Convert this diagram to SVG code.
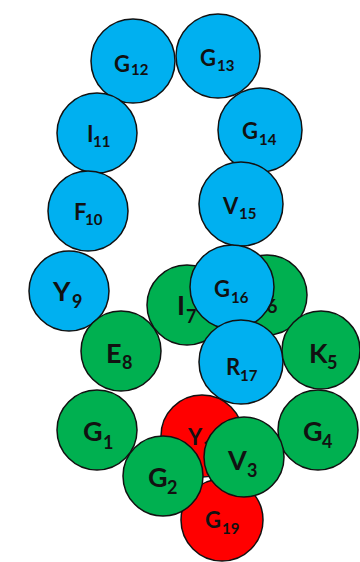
<svg xmlns="http://www.w3.org/2000/svg" width="360" height="562" viewBox="0 0 360 562">
<style>
circle{stroke:#111;stroke-width:1.5}
.b{fill:#00B0F0}.g{fill:#00B050}.r{fill:#FF0000}
text{font-family:Lato,"Open Sans","Liberation Sans",sans-serif;font-weight:700;fill:#111}
.s{font-size:22px}.s .d{font-size:15px}
.l{font-size:27px}.l .d{font-size:18px}
</style>
<rect width="360" height="562" fill="#fff"/>
<g id="G12"><circle class="b" cx="133" cy="61" r="42"/><text class="s"><tspan x="114" y="72">G</tspan><tspan class="d" x="131" y="75">12</tspan></text></g>
<g id="G13"><circle class="b" cx="218" cy="56" r="42"/><text class="s"><tspan x="200" y="66">G</tspan><tspan class="d" x="217" y="71">13</tspan></text></g>
<g id="I11"><circle class="b" cx="97" cy="133" r="40"/><text class="s"><tspan x="87" y="142">I</tspan><tspan class="d" x="93" y="147">11</tspan></text></g>
<g id="G14"><circle class="b" cx="260" cy="130" r="42"/><text class="s"><tspan x="242" y="139">G</tspan><tspan class="d" x="259" y="145">14</tspan></text></g>
<g id="F10"><circle class="b" cx="88" cy="211" r="40"/><text class="s"><tspan x="74" y="220">F</tspan><tspan class="d" x="85" y="225">10</tspan></text></g>
<g id="V15"><circle class="b" cx="241" cy="204" r="42"/><text class="s"><tspan x="223" y="214">V</tspan><tspan class="d" x="239" y="219">15</tspan></text></g>
<g id="Y9"><circle class="b" cx="69" cy="291" r="40"/><text class="l"><tspan x="53" y="301">Y</tspan><tspan class="d" x="72" y="308">9</tspan></text></g>
<g id="E8"><circle class="g" cx="121" cy="351" r="40"/><text class="l"><tspan x="106" y="363">E</tspan><tspan class="d" x="122" y="369">8</tspan></text></g>
<g id="I7"><circle class="g" cx="187" cy="305" r="40"/><text class="l"><tspan x="177" y="315">I</tspan><tspan class="d" x="186" y="323">7</tspan></text></g>
<g id="N6"><circle class="g" cx="267" cy="295" r="40"/><text class="l"><tspan class="d" x="267" y="313">6</tspan></text></g>
<g id="G16"><circle class="b" cx="232" cy="287" r="42"/><text class="s"><tspan x="214" y="297">G</tspan><tspan class="d" x="231" y="303">16</tspan></text></g>
<g id="R17"><circle class="b" cx="241" cy="362" r="42"/><text class="s"><tspan x="226" y="375">R</tspan><tspan class="d" x="240" y="381">17</tspan></text></g>
<g id="K5"><circle class="g" cx="321" cy="350" r="39"/><text class="l"><tspan x="309" y="363">K</tspan><tspan class="d" x="327" y="369">5</tspan></text></g>
<g id="G1"><circle class="g" cx="97" cy="430" r="40"/><text class="l"><tspan x="83" y="441">G</tspan><tspan class="d" x="103" y="449">1</tspan></text></g>
<g id="G4"><circle class="g" cx="318" cy="430" r="40"/><text class="l"><tspan x="303" y="441">G</tspan><tspan class="d" x="322" y="448">4</tspan></text></g>
<g id="Y18"><circle class="r" cx="202" cy="436" r="41"/><text class="s"><tspan x="188" y="445">Y</tspan><tspan class="d" x="203" y="451">1</tspan></text></g>
<g id="G19"><circle class="r" cx="222" cy="520" r="41"/><text class="s"><tspan x="205" y="528">G</tspan><tspan class="d" x="222" y="534">19</tspan></text></g>
<g id="G2"><circle class="g" cx="163" cy="476" r="40"/><text class="l"><tspan x="148" y="487">G</tspan><tspan class="d" x="167" y="494">2</tspan></text></g>
<g id="V3"><circle class="g" cx="244" cy="457" r="40"/><text class="l"><tspan x="228" y="470">V</tspan><tspan class="d" x="247" y="477">3</tspan></text></g>
<g id="connectors"/>
</svg>
